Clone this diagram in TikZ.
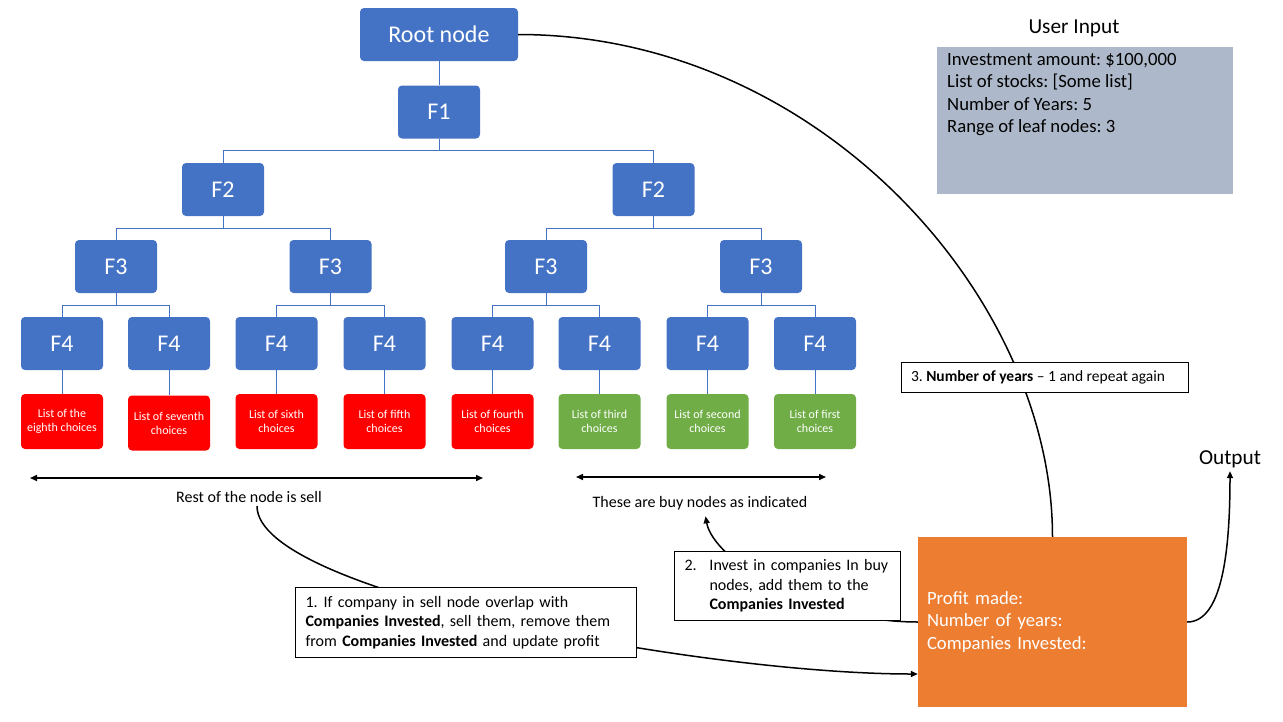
\documentclass[tikz,border=0pt]{standalone}
\usepackage{fontspec}
\setmainfont{Carlito}
\frenchspacing
\usetikzlibrary{arrows.meta}
\definecolor{nodeblue}{HTML}{4472C4}
\definecolor{sellred}{HTML}{FF0000}
\definecolor{buygreen}{HTML}{70AD47}
\definecolor{stateorange}{HTML}{ED7D31}
\definecolor{inputgray}{HTML}{ADB9CA}
\newcommand{\fsz}[2]{\fontsize{#1pt}{#2pt}\selectfont}
\tikzset{
  fnode/.style={fill=nodeblue, rounded corners=4pt, minimum width=82pt, minimum height=53pt, text=white, font=\fsz{24}{29}},
  choice/.style={rounded corners=4pt, minimum width=82pt, minimum height=55pt, text=white, align=center, font=\fsz{12}{14}},
  sellbox/.style={choice, fill=sellred},
  buybox/.style={choice, fill=buygreen},
  link/.style={draw=nodeblue, line width=0.9pt},
  curve/.style={line width=1.5pt, >={Triangle[length=7pt,width=6pt]}},
  note/.style={draw, fill=white, line width=1pt, align=left, font=\fsz{16}{19.5}, inner xsep=10pt, anchor=north west},
}
\begin{document}
\begin{tikzpicture}[x=1pt,y=-1pt]
\useasboundingbox (0,0) rectangle (1283,721);
% tree
\node[fnode, minimum width=158pt] (root) at (439,34.5) {Root node};
\node[fnode] (f1) at (439,112) {F1};
\node[fnode] (f2a) at (223,189.5) {F2};
\node[fnode] (f2b) at (653.5,189.5) {F2};
\node[fnode] (f3a) at (116,266.5) {F3};
\node[fnode] (f3b) at (330.5,266.5) {F3};
\node[fnode] (f3c) at (546,266.5) {F3};
\node[fnode] (f3d) at (761,266.5) {F3};
\node[fnode] (f4a) at (62,343.5) {F4};
\node[fnode] (f4b) at (169,343.5) {F4};
\node[fnode] (f4c) at (276.5,343.5) {F4};
\node[fnode] (f4d) at (384.5,343.5) {F4};
\node[fnode] (f4e) at (492.5,343.5) {F4};
\node[fnode] (f4f) at (599.5,343.5) {F4};
\node[fnode] (f4g) at (707.5,343.5) {F4};
\node[fnode] (f4h) at (815,343.5) {F4};
\node[sellbox] (eighth) at (62,421.5) {List of the\\eighth choices};
\node[sellbox] (seventh) at (169,423) {List of seventh\\choices};
\node[sellbox] (sixth) at (276.5,421.5) {List of sixth\\choices};
\node[sellbox] (fifth) at (384.5,421.5) {List of fifth\\choices};
\node[sellbox] (fourth) at (492.5,421.5) {List of fourth\\choices};
\node[buybox] (third) at (599.5,421.5) {List of third\\choices};
\node[buybox] (second) at (707.5,421.5) {List of second\\choices};
\node[buybox] (first) at (815,421.5) {List of first\\choices};
\draw[link] (root) -- (f1);
\foreach \p/\c in {f1/f2a, f1/f2b, f2a/f3a, f2a/f3b, f2b/f3c, f2b/f3d, f3a/f4a, f3a/f4b, f3b/f4c, f3b/f4d, f3c/f4e, f3c/f4f, f3d/f4g, f3d/f4h}
  \draw[link] (\p.south) -- ++(0,12) -| (\c.north);
\foreach \f/\c in {f4a/eighth, f4b/seventh, f4c/sixth, f4d/fifth, f4e/fourth, f4f/third, f4g/second, f4h/first}
  \draw[link] (\f) -- (\c);
% sell / buy ranges
\coordinate (sellL) at (30,478);
\coordinate (sellR) at (483,478);
\coordinate (buyL) at (576,477);
\coordinate (buyR) at (826,477);
\draw[curve, <->] (sellL) -- (sellR);
\draw[curve, <->] (buyL) -- (buyR);
\node[font=\fsz{16}{19.5}] (selltext) at (249,497) {Rest of the node is sell};
\node[font=\fsz{16}{19.5}] (buytext) at (700,503) {These are buy nodes as indicated};
% input and state
\node[font=\fsz{21.3}{26}] (inputtitle) at (1074,28) {User Input};
\node[fill=inputgray, anchor=north west, inner xsep=10pt, inner ysep=6pt, font=\fsz{18.7}{22.5}] (input) at (937,47)
  {\parbox[c][135pt][t]{276pt}{Investment amount: \$100,000\\List of stocks: [Some list]\\Number of Years: 5\\Range of leaf nodes: 3}};
\node[fill=stateorange, minimum width=269pt, minimum height=170pt, text width=251pt, inner xsep=9pt, align=left, text=white, font=\fsz{18.7}{22.5}] (state) at (1052.5,622)
  {Profit made:\\Number of years:\\Companies Invested:};
\node[font=\fsz{21.3}{26}] (outtext) at (1230,459) {Output};
% loop curves
\draw[curve] (root.east) .. controls +(300,0) and +(0,-240) .. (state.north);
\draw[curve, ->] ([xshift=8pt]selltext.south) .. controls +(0,87) and +(-212,0) .. ([yshift=-52pt]state.west);
\draw[curve, ->, shorten >=3pt] (state.west) .. controls +(-110,0) and +(8,45) .. ([xshift=5pt]buytext.south);
\draw[curve, ->] (state.east) .. controls +(35,0) and +(0,80) .. (outtext.south);
% step notes
\node[note, text width=321pt, minimum height=70pt] (step1) at (295,587)
  {1.\hspace{6pt}If company in sell node overlap with\\\textbf{Companies Invested}, sell them, remove them\\from \textbf{Companies Invested} and update profit};
\node[note, text width=206pt, minimum height=69pt] (step2) at (674,551)
  {\makebox[25pt][l]{2.}Invest in companies In buy\\\hspace*{25pt}nodes, add them to the\\\hspace*{25pt}\textbf{Companies Invested}};
\node[note, inner xsep=9.5pt, minimum height=30pt, font=\fsz{15.5}{19}] (step3) at (901,362)
  {\makebox[268pt][l]{3. \textbf{Number of years} – 1 and repeat again}};
\end{tikzpicture}
\end{document}
